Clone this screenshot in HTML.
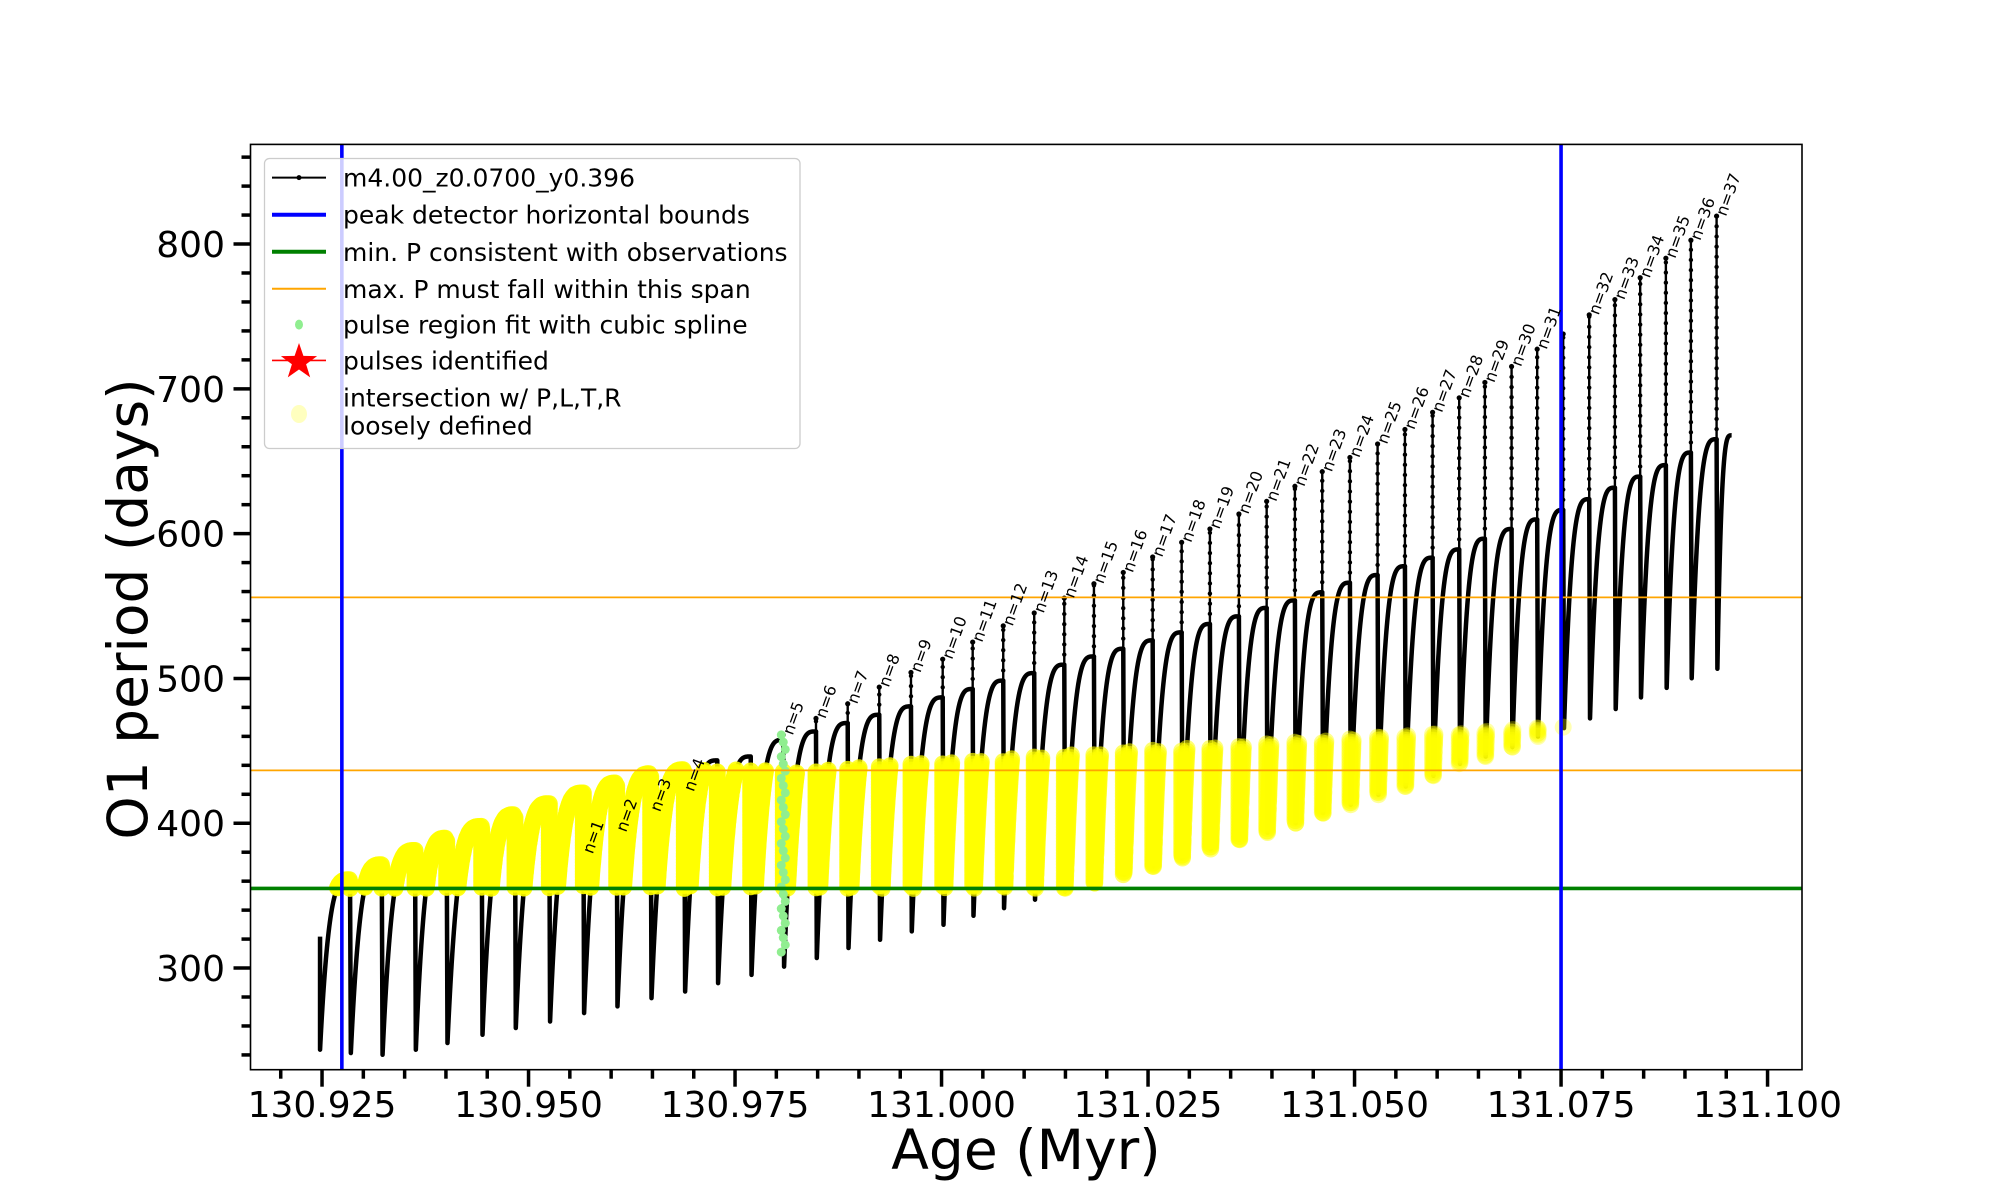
<!DOCTYPE html>
<html><head><meta charset="utf-8"><style>
html,body{margin:0;padding:0;background:#fff}
svg{display:block;font-family:"DejaVu Sans","Liberation Sans",sans-serif}
</style></head><body>
<svg id="chart" width="2000" height="1200" viewBox="0 0 2000 1200" xmlns="http://www.w3.org/2000/svg">
<rect x="0" y="0" width="2000" height="1200" fill="#fff"/>
<g id="plot"></g>
<g id="axes"></g>
<g id="legend"></g>
</svg>
<script>
// ---- data ----
const startAge = 130.92476;
const startTop = 321.7;
const startMin = 243.6;
const endAge = 131.09565;
const endVal = 667.9;
const pulseAges = [130.92839,130.93223,130.93626,130.94009,130.94433,130.94836,130.95251,130.95663,130.96067,130.96479,130.96886,130.97285,130.97690,130.98084,130.98480,130.98864,130.99246,130.99630,131.00014,131.00377,131.00747,131.01122,131.01486,131.01845,131.02200,131.02556,131.02907,131.03249,131.03600,131.03936,131.04278,131.04609,131.04944,131.05279,131.05610,131.05945,131.06267,131.06578,131.06901,131.07211,131.07526,131.07841,131.08152,131.08458,131.08769,131.09072,131.09383];
const preMax = [361,371.3,381.2,389.7,397.8,405.9,413.5,420.9,427.8,434.2,437,443.4,446.1,457.6,463.4,469.2,474.9,480.7,486.9,492.7,498.5,503.7,509.5,515.2,520.5,526.3,531.8,537.6,542.9,548.7,553.9,559.5,566.1,571.4,577.5,583.4,589.1,596.5,603.2,609.8,616.4,623.8,631.7,639.4,647.3,656,665.2];
const spikeTop = [null,null,null,null,null,null,null,null,null,null,null,null,null,461,472.4,482.5,494.0,504.1,513.3,525.1,536.3,545.2,555.5,565.4,573.2,583.9,594.0,603.2,613.6,622.3,632.7,642.8,652.6,661.9,671.9,683.8,693.8,704.4,715.4,727.4,737.9,751.1,761.6,776.7,790.2,802.6,819.3];
const postMin = [241.3,240.1,243.6,248.2,253.9,258.6,263.1,268.9,273.5,279.2,283.8,289.6,295.3,301,306.9,313.8,319.5,325.3,329.9,336.1,341.4,347.2,352.9,358.7,364.4,370.2,376,382.2,388.6,393.6,400.1,407,412.8,419.7,425.4,432.8,441.1,446.1,452.6,459.9,465.7,472.4,478.9,486.9,493.5,500.1,506.7];
const pulseLabels = ["n=1","n=2","n=3","n=4","n=5","n=6","n=7","n=8","n=9","n=10","n=11","n=12","n=13","n=14","n=15","n=16","n=17","n=18","n=19","n=20","n=21","n=22","n=23","n=24","n=25","n=26","n=27","n=28","n=29","n=30","n=31","n=32","n=33","n=34","n=35","n=36","n=37"];
const labelPulseIdx = [7,8,9,10,13,14,15,16,17,18,19,20,21,22,23,24,25,26,27,28,29,30,31,32,33,34,35,36,37,38,39,41,42,43,44,45,46];
const lowLabelVals = [379,394,408,422];
const boundAges = [130.9274, 131.075];
const minP = 355;
const maxPSpan = [436.5, 556];
const bandAges = [130.90, 130.985, 131.0753];
const bandTop = [437, 437, 467];
const splinePulseIdx = 13;
const splineBottom = 307;
const xTicks = [130.925,130.950,130.975,131.000,131.025,131.050,131.075,131.100];
const xTickLabels = ["130.925","130.950","130.975","131.000","131.025","131.050","131.075","131.100"];
const yTicks = [300,400,500,600,700,800];
const yTickLabels = ["300","400","500","600","700","800"];

// ---- axes functions ----
const L=250.5,R=1802,T=144.4,B=1069.7;
const xMin=130.91634,xMax=131.10417,yMin=229.8,yMax=868.8;
const X=a=>L+(a-xMin)/(xMax-xMin)*(R-L);
const Y=v=>B-(v-yMin)/(yMax-yMin)*(B-T);
const NS="http://www.w3.org/2000/svg";
function mk(tag,attrs,parent){const e=document.createElementNS(NS,tag);for(const k in attrs)e.setAttribute(k,attrs[k]);parent.appendChild(e);return e;}
const plot=document.getElementById('plot');
const axes=document.getElementById('axes');
const legend=document.getElementById('legend');

const defs=mk('defs',{},plot);
const cp=mk('clipPath',{id:'clip'},defs);
mk('rect',{x:L,y:T,width:R-L,height:B-T},cp);
const g=mk('g',{'clip-path':'url(#clip)'},plot);

function bandUpper(t){
  for(let i=0;i<bandAges.length-1;i++){
    if(t<=bandAges[i+1]){const f=(t-bandAges[i])/(bandAges[i+1]-bandAges[i]);return bandTop[i]+f*(bandTop[i+1]-bandTop[i]);}
  }
  return bandTop[bandTop.length-1];
}

const pts=[];
let d='M'+X(startAge).toFixed(2)+','+Y(startTop).toFixed(2);
for(let v=startTop;v>=startMin;v-=2){pts.push({t:startAge,v:v});}
d+=' L'+X(startAge).toFixed(2)+','+Y(startMin).toFixed(2);
let t0=startAge,m0=startMin;
for(let i=0;i<=pulseAges.length;i++){
  const t1 = i<pulseAges.length?pulseAges[i]:endAge;
  const p1 = i<pulseAges.length?preMax[i]:endVal;
  const N=160;
  for(let k=1;k<=N;k++){
    const u=k/N, s=u*u;
    const f=1-Math.pow(1-s,3.5);
    const t=t0+(t1-t0)*s, v=m0+(p1-m0)*f;
    pts.push({t:t,v:v});
    d+=' L'+X(t).toFixed(2)+','+Y(v).toFixed(2);
  }
  if(i<pulseAges.length){
    const mn=postMin[i];
    for(let v=p1;v>=mn;v-=2){pts.push({t:t1,v:v});}
    d+=' L'+(X(t1)+0.8).toFixed(2)+','+Y(mn).toFixed(2);
    t0=t1+0.8/((R-L)/(xMax-xMin)); m0=mn;
  }
}
const curve=mk('path',{d:d,fill:'none',stroke:'#000','stroke-width':4.5,'stroke-linejoin':'round'},g);



for(let i=0;i<pulseAges.length;i++){
  if(spikeTop[i]===null)continue;
  const x=X(pulseAges[i]);
  const sp=mk('line',{x1:x,x2:x,y1:Y(preMax[i]),y2:Y(spikeTop[i]),stroke:'#000','stroke-width':2.4},g);
  
  
  for(let v=preMax[i];v<=spikeTop[i];v+=7){
    const c=mk('circle',{cx:x,cy:Y(v),r:2.2,fill:'#000'},g);
    
    
  }
  const c2=mk('circle',{cx:x,cy:Y(spikeTop[i]),r:2.6,fill:'#000'},g);
  
  
}

const yg=mk('g',{},g);


let lastKey='';
for(const p of pts){
  if(p.t>boundAges[1]+0.0003)continue;
  if(p.v<minP||p.v>bandUpper(p.t))continue;
  const cx=X(p.t),cy=Y(p.v);
  const key=Math.round(cx/2)+'_'+Math.round(cy/2);
  if(key===lastKey)continue;lastKey=key;
  const fr=Math.min(1,Math.max(0,(p.t-130.97)/0.1));
  const op=0.9-0.6*fr;
  const c=mk('circle',{cx:cx.toFixed(1),cy:cy.toFixed(1),r:8.5,fill:'#ffff00','fill-opacity':op},yg);
  
  
}

{
  const i=splinePulseIdx, x=X(pulseAges[i]);
  let k=0;
  for(let v=spikeTop[i];v>=splineBottom;v-=5,k++){
    const c=mk('circle',{cx:x+((k%3)-1)*2,cy:Y(v),r:4.5,fill:'#90ee90'},g);
    
    
  }
}

const gl=mk('line',{x1:L,x2:R,y1:Y(minP),y2:Y(minP),stroke:'#008000','stroke-width':3.6},plot);


maxPSpan.forEach(v=>{
  const l=mk('line',{x1:L,x2:R,y1:Y(v),y2:Y(v),stroke:'#ffa500','stroke-width':1.8},plot);
  
  
});
boundAges.forEach(a=>{
  const l=mk('line',{x1:X(a),x2:X(a),y1:T,y2:B,stroke:'#0000ff','stroke-width':3.6},plot);
  
  
});

labelPulseIdx.forEach((idx,j)=>{
  const x=X(pulseAges[idx])+4;
  const v = j<4 ? lowLabelVals[j] : spikeTop[idx];
  const y=Y(v)-1;
  const t=mk('text',{x:0,y:0,'font-size':16,fill:'#000',transform:'translate('+x.toFixed(1)+','+y.toFixed(1)+') rotate(-70)',dy:'0.35em'},plot);
  t.textContent=pulseLabels[j];
  
  
});

const frame=mk('rect',{x:L,y:T,width:R-L,height:B-T,fill:'none',stroke:'#000','stroke-width':1.6},axes);



for(let a=130.920;a<=131.1001;a+=0.005){
  const x=X(a);
  const major=Math.abs(Math.round(a*1000)%25)<0.5;
  const tk=mk('line',{x1:x,x2:x,y1:B,y2:B+(major?17:9),stroke:'#000','stroke-width':3.5},axes);
  
  
}
xTicks.forEach((a,i)=>{
  const t=mk('text',{x:X(a),y:1117,'font-size':36,'text-anchor':'middle',fill:'#000'},axes);
  t.textContent=xTickLabels[i];
  
  
});
for(let v=240;v<=860;v+=20){
  const y=Y(v);
  const major=v%100===0;
  const tk=mk('line',{x1:L,x2:L-(major?17:9),y1:y,y2:y,stroke:'#000','stroke-width':3.5},axes);
  
  
}
yTicks.forEach((v,i)=>{
  const t=mk('text',{x:225,y:Y(v)+13,'font-size':36,'text-anchor':'end',fill:'#000'},axes);
  t.textContent=yTickLabels[i];
  
  
});
const xt=mk('text',{x:1026,y:1169,'font-size':55,'text-anchor':'middle',fill:'#000'},axes);
xt.textContent='Age (Myr)';


const yt=mk('text',{x:0,y:0,'font-size':55,'text-anchor':'middle',fill:'#000',transform:'translate(147,609) rotate(-90)'},axes);
yt.textContent='O1 period (days)';



const lb=mk('rect',{x:264.5,y:158.5,width:535.5,height:290,rx:5,fill:'#fff','fill-opacity':0.8,stroke:'#cccccc','stroke-width':1.3},legend);


const rows=[177.6,214.7,251.8,288.8,324.6,360.4];
const texts=['m4.00_z0.0700_y0.396','peak detector horizontal bounds','min. P consistent with observations','max. P must fall within this span','pulse region fit with cubic spline','pulses identified'];
const names=['legend-model','legend-bounds','legend-min-p','legend-max-p','legend-spline','legend-pulses'];
rows.forEach((y,i)=>{
  const t=mk('text',{x:343,y:y+9,'font-size':25,fill:'#000'},legend);
  t.textContent=texts[i];
  
  
});
mk('line',{x1:272,x2:326,y1:177.6,y2:177.6,stroke:'#000','stroke-width':2},legend);
mk('circle',{cx:299,cy:177.6,r:2.5,fill:'#000'},legend);
mk('line',{x1:272,x2:326,y1:214.7,y2:214.7,stroke:'#0000ff','stroke-width':4},legend);
mk('line',{x1:272,x2:326,y1:251.8,y2:251.8,stroke:'#008000','stroke-width':4},legend);
mk('line',{x1:272,x2:326,y1:288.8,y2:288.8,stroke:'#ffa500','stroke-width':2},legend);
mk('ellipse',{cx:299,cy:324.6,rx:4,ry:5,fill:'#90ee90'},legend);
mk('line',{x1:272,x2:326,y1:360.4,y2:360.4,stroke:'#ff0000','stroke-width':1.6},legend);
{
  const cx=299,cy=362,ro=19,ri=7.5;let p='';
  for(let k=0;k<10;k++){const r=k%2?ri:ro;const a=-Math.PI/2+k*Math.PI/5;p+=(k?'L':'M')+(cx+r*Math.cos(a)).toFixed(1)+','+(cy+r*Math.sin(a)).toFixed(1);}
  const st=mk('path',{d:p+'Z',fill:'#ff0000'},legend);
  
  
}
mk('ellipse',{cx:299,cy:414,rx:8,ry:9,fill:'#ffffbf'},legend);
const t1=mk('text',{x:343,y:406.5,'font-size':25,fill:'#000'},legend);
t1.textContent='intersection w/ P,L,T,R';


const t2=mk('text',{x:343,y:434.6,'font-size':25,fill:'#000'},legend);
t2.textContent='loosely defined';


</script>
</body></html>
